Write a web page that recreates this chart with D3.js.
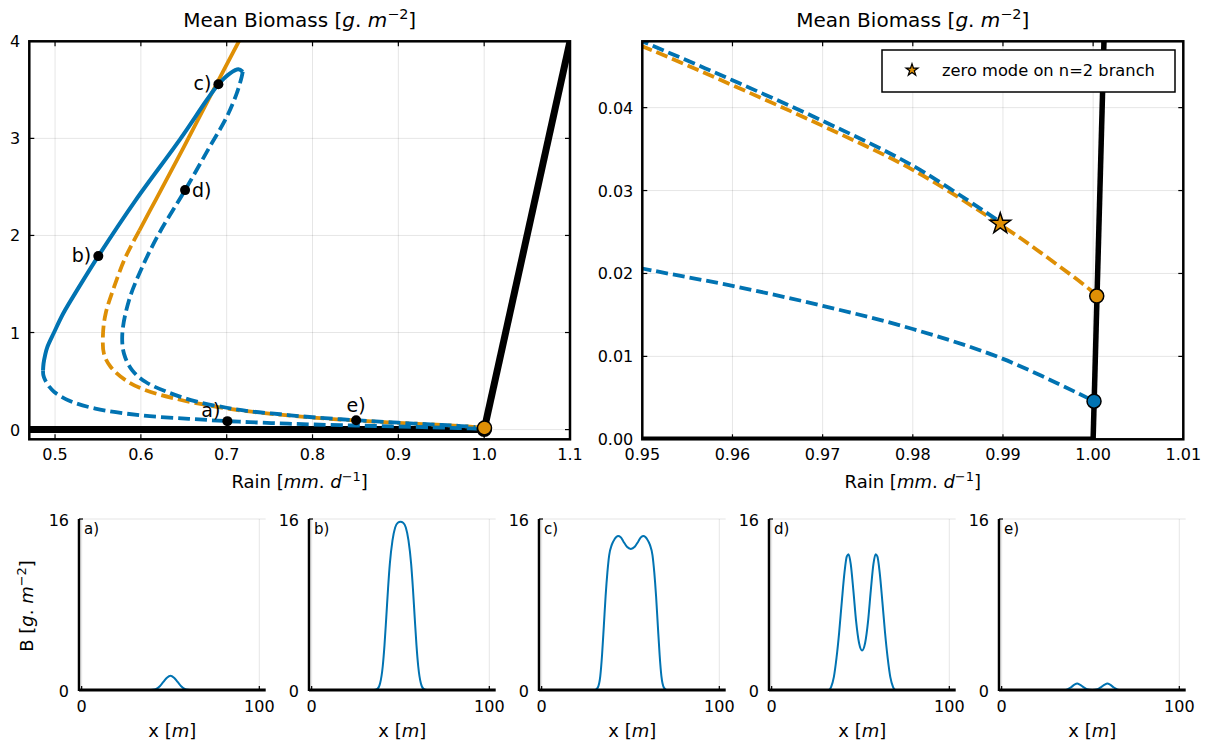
<!DOCTYPE html>
<html><head><meta charset="utf-8">
<script src="https://cdn.jsdelivr.net/npm/d3@7"></script>
<style>body{margin:0;background:#fff} text{font-family:"DejaVu Sans",sans-serif;fill:#000}</style>
</head><body><svg id="c" width="1210" height="744"></svg>
<script>
// ---------------- data ----------------
const blueStable = [[0.4860,0.61],[0.4866,0.68],[0.4885,0.77],[0.491,0.85],[0.4988,1.0],[0.5095,1.196],[0.528,1.47],[0.5504,1.787],[0.594,2.364],[0.6456,2.99],[0.6768,3.395],[0.6903,3.557],[0.7039,3.67],[0.7136,3.711],[0.7187,3.687]];
const blueUpper = [[0.7187,3.687],[0.7175,3.635],[0.7117,3.464],[0.700,3.22],[0.6802,2.913],[0.6515,2.467],[0.6212,2.02],[0.6017,1.676],[0.5862,1.333],[0.5784,0.99],[0.5804,0.78],[0.590,0.61],[0.6057,0.49],[0.6328,0.38],[0.664,0.29],[0.700,0.225],[0.726,0.19],[0.762,0.158],[0.80,0.127],[0.85,0.097],[0.90,0.071],[0.95,0.0480],[0.96,0.0433],[0.97,0.0384],[0.98,0.0330],[0.9897,0.0262]];
const blueLower = [[0.4860,0.61],[0.4864,0.56],[0.4885,0.51],[0.4935,0.44],[0.4988,0.39],[0.516,0.30],[0.547,0.216],[0.60,0.147],[0.656,0.111],[0.7008,0.087],[0.726,0.077],[0.762,0.064],[0.80,0.053],[0.85,0.042],[0.90,0.032],[0.95,0.0206],[0.96,0.0185],[0.97,0.0161],[0.98,0.0133],[0.99,0.0097],[1.0001,0.0046]];
const orangeStable = [[0.5982,2.05],[0.6175,2.37],[0.650,2.91],[0.6884,3.565],[0.7148,4.01]];
const orangeUnstable = [[0.5982,2.05],[0.5823,1.78],[0.5688,1.47],[0.559,1.196],[0.5559,0.99],[0.557,0.78],[0.5649,0.645],[0.5823,0.508],[0.6057,0.405],[0.6445,0.31],[0.6833,0.243],[0.718,0.196],[0.762,0.154],[0.80,0.124],[0.85,0.094],[0.90,0.069],[0.95,0.0474],[0.96,0.0427],[0.97,0.0378],[0.98,0.0325],[0.9897,0.0259],[0.9937,0.0229],[0.9997,0.0180],[1.0004,0.01727]];
const trivialBranch = [[0.40,0],[1.0,0]];
const uniformBranch = [[1.0,0],[1.1,4.0]];
const bifRain = [1.0001, 1.0004];
const bifB = [0.0046, 0.01727];
const bifColor = ["#0173b2", "#de8f05"];
const zeroModeRain = [0.9897];
const zeroModeB = [0.0260];
const ptLabels = ["a)","b)","c)","d)","e)"];
const ptRain = [0.7008,0.5504,0.6903,0.6515,0.8508];
const ptB = [0.087,1.787,3.557,2.467,0.097];

const leftXTicks = [0.5,0.6,0.7,0.8,0.9,1.0,1.1];
const leftXTickLabels = ["0.5","0.6","0.7","0.8","0.9","1.0","1.1"];
const leftYTicks = [0,1,2,3,4];
const rightXTicks = [0.95,0.96,0.97,0.98,0.99,1.00,1.01];
const rightXTickLabels = ["0.95","0.96","0.97","0.98","0.99","1.00","1.01"];
const rightYTicks = [0,0.01,0.02,0.03,0.04];
const rightYTickLabels = ["0.00","0.01","0.02","0.03","0.04"];

const profileA = [[0,0],[38,0],[40,0.02],[42,0.1],[44,0.35],[46,0.75],[48,1.15],[50,1.34],[52,1.15],[54,0.75],[56,0.35],[58,0.1],[60,0.02],[62,0],[100,0]];
const profileB = [[0,0],[35,0],[37,0.1],[38.5,0.6],[40,2.2],[41,4.2],[42,6.8],[43,9.5],[44,11.8],[45.5,14.0],[47,15.2],[48.5,15.65],[50,15.75],[51.5,15.65],[53,15.2],[54.5,14.0],[56,11.8],[57,9.5],[58,6.8],[59,4.2],[60,2.2],[61.5,0.6],[63,0.1],[65,0],[100,0]];
const profileC = [[0,0],[30,0],[31.5,0.2],[33,1.3],[34,3.3],[35,6],[36,8.8],[37,11],[38,12.6],[39.5,13.6],[41,14.1],[43,14.4],[44.5,14.3],[46,13.9],[48,13.4],[50.2,13.2],[52.4,13.4],[54.4,13.9],[55.9,14.3],[57.4,14.4],[59.4,14.1],[60.9,13.6],[62.4,12.6],[63.4,11],[64.4,8.8],[65.4,6],[66.4,3.3],[67.4,1.3],[68.9,0.2],[70.4,0],[100,0]];
const profileD = [[0,0],[32,0],[33.5,0.3],[35,1.2],[36.5,3],[38,5.4],[39.5,8.3],[41,11],[42.3,12.5],[43.3,12.7],[44.5,11.8],[46,9.3],[47.5,6.5],[49.2,4.4],[50.9,3.7],[52.6,4.4],[54.3,6.5],[55.8,9.3],[57.3,11.8],[58.5,12.7],[59.5,12.5],[60.8,11],[62.3,8.3],[63.8,5.4],[65.3,3],[66.8,1.2],[68.3,0.3],[69.8,0],[100,0]];
const profileE = [[0,0],[35,0],[37,0.06],[39,0.25],[41,0.5],[42.5,0.6],[44,0.5],[46,0.27],[48,0.08],[51,0.01],[54,0.08],[56,0.27],[58,0.5],[59.5,0.6],[61,0.5],[63,0.25],[65,0.06],[67,0],[100,0]];
const profiles = [profileA, profileB, profileC, profileD, profileE];
const profileNames = ["a)","b)","c)","d)","e)"];

// ---------------- drawing ----------------
const BLUE = "#0173b2", ORANGE = "#de8f05";
const svg = d3.select("#c");
const defs = svg.append("defs");

function unitText(t, pre, a, b, sup, fs){
  t.append("tspan").text(pre);
  t.append("tspan").attr("font-style","italic").text(a);
  t.append("tspan").text(". ");
  t.append("tspan").attr("font-style","italic").text(b);
  t.append("tspan").attr("dy",-fs*0.4).attr("font-size",fs*0.72).text(sup);
  t.append("tspan").attr("dy",fs*0.4).text("]");
}

function topPanel(cfg){
  const x = d3.scaleLinear().domain(cfg.xd).range([cfg.x0, cfg.x1]);
  const y = d3.scaleLinear().domain(cfg.yd).range([cfg.y1, cfg.y0]);
  const g = svg.append("g");
  const cid = "clip"+cfg.id;
  defs.append("clipPath").attr("id",cid).append("rect")
    .attr("x",cfg.x0).attr("y",cfg.y0).attr("width",cfg.x1-cfg.x0).attr("height",cfg.y1-cfg.y0);
  g.selectAll(".gx").data(cfg.xt).enter().append("line")
    .attr("x1",d=>x(d)).attr("x2",d=>x(d)).attr("y1",cfg.y0).attr("y2",cfg.y1)
    .attr("stroke","#000").attr("stroke-opacity",0.1).attr("stroke-width",1);
  g.selectAll(".gy").data(cfg.yt).enter().append("line")
    .attr("y1",d=>y(d)).attr("y2",d=>y(d)).attr("x1",cfg.x0).attr("x2",cfg.x1)
    .attr("stroke","#000").attr("stroke-opacity",0.1).attr("stroke-width",1);
  const pg = g.append("g").attr("clip-path","url(#"+cid+")");
  const line = d3.line().x(d=>x(d[0])).y(d=>y(d[1])).curve(d3.curveCatmullRom.alpha(0.5));
  const lin = d3.line().x(d=>x(d[0])).y(d=>y(d[1]));
  const dash = "12,5";
  pg.append("path").attr("d",lin(trivialBranch)).attr("fill","none").attr("stroke","#000").attr("stroke-width",cfg.bw);
  pg.append("path").attr("d",lin(uniformBranch)).attr("fill","none").attr("stroke","#000").attr("stroke-width",cfg.bw);
  pg.append("path").attr("d",line(orangeStable)).attr("fill","none").attr("stroke",ORANGE).attr("stroke-width",3.8);
  pg.append("path").attr("d",line(orangeUnstable)).attr("fill","none").attr("stroke",ORANGE).attr("stroke-width",3.8).attr("stroke-dasharray",dash);
  pg.append("path").attr("d",line(blueLower)).attr("fill","none").attr("stroke",BLUE).attr("stroke-width",3.8).attr("stroke-dasharray",dash);
  pg.append("path").attr("d",line(blueUpper)).attr("fill","none").attr("stroke",BLUE).attr("stroke-width",3.8).attr("stroke-dasharray",dash);
  pg.append("path").attr("d",line(blueStable)).attr("fill","none").attr("stroke",BLUE).attr("stroke-width",4);
  pg.selectAll(".bif").data(bifRain).enter().append("circle")
    .attr("cx",d=>x(d)).attr("cy",(d,i)=>y(bifB[i])).attr("r",7)
    .attr("fill",(d,i)=>bifColor[i]).attr("stroke","#000").attr("stroke-width",1.5);
  if(cfg.star){
    pg.selectAll(".star").data(zeroModeRain).enter().append("path")
      .attr("d", d3.symbol().type(d3.symbolStar).size(135)())
      .attr("transform",(d,i)=>`translate(${x(d)},${y(zeroModeB[i])})`)
      .attr("fill",ORANGE).attr("stroke","#000").attr("stroke-width",1.5);
  }
  if(cfg.pts){
    pg.selectAll(".pt").data(ptRain).enter().append("circle")
      .attr("cx",d=>x(d)).attr("cy",(d,i)=>y(ptB[i])).attr("r",5).attr("fill","#000");
    const off = [[-7,-4,"end"],[-7,6,"end"],[-7,6,"end"],[7,7,"start"],[0,-8,"middle"]];
    g.selectAll(".pl").data(ptLabels).enter().append("text")
      .attr("x",(d,i)=>x(ptRain[i])+off[i][0]).attr("y",(d,i)=>y(ptB[i])+off[i][1])
      .attr("text-anchor",(d,i)=>off[i][2]).attr("font-size",19).text(d=>d);
  }
  g.append("rect").attr("x",cfg.x0).attr("y",cfg.y0).attr("width",cfg.x1-cfg.x0).attr("height",cfg.y1-cfg.y0)
    .attr("fill","none").attr("stroke","#000").attr("stroke-width",2.5);
  const tl = 5;
  cfg.xt.forEach(t=>{
    g.append("line").attr("x1",x(t)).attr("x2",x(t)).attr("y1",cfg.y1).attr("y2",cfg.y1-tl).attr("stroke","#000").attr("stroke-width",1.2);
    g.append("line").attr("x1",x(t)).attr("x2",x(t)).attr("y1",cfg.y0).attr("y2",cfg.y0+tl).attr("stroke","#000").attr("stroke-width",1.2);
  });
  cfg.yt.forEach(t=>{
    g.append("line").attr("y1",y(t)).attr("y2",y(t)).attr("x1",cfg.x0).attr("x2",cfg.x0+tl).attr("stroke","#000").attr("stroke-width",1.2);
    g.append("line").attr("y1",y(t)).attr("y2",y(t)).attr("x1",cfg.x1).attr("x2",cfg.x1-tl).attr("stroke","#000").attr("stroke-width",1.2);
  });
  g.selectAll(".xl").data(cfg.xt).enter().append("text")
    .attr("x",d=>x(d)).attr("y",cfg.y1+21).attr("text-anchor","middle").attr("font-size",16)
    .text((d,i)=>cfg.xtl[i]);
  g.selectAll(".yl").data(cfg.yt).enter().append("text")
    .attr("x",cfg.x0-9).attr("y",d=>y(d)+6).attr("text-anchor","end").attr("font-size",16)
    .text((d,i)=>cfg.ytl[i]);
  const tt = g.append("text").attr("x",(cfg.x0+cfg.x1)/2).attr("y",27).attr("text-anchor","middle").attr("font-size",20);
  unitText(tt, "Mean Biomass [", "g", "m", "\u22122", 20);
  const rl = g.append("text").attr("x",(cfg.x0+cfg.x1)/2).attr("y",488).attr("text-anchor","middle").attr("font-size",18);
  unitText(rl, "Rain [", "mm", "d", "\u22121", 18);
  return {g,x,y};
}

topPanel({id:"L",x0:29.3,x1:570,y0:41.3,y1:439.3,xd:[0.47,1.1],yd:[-0.1,4.0],
  xt:leftXTicks,xtl:leftXTickLabels,yt:leftYTicks,ytl:leftYTicks.map(String),bw:7,pts:true,star:false});
topPanel({id:"R",x0:642.3,x1:1183.3,y0:41.3,y1:439.3,xd:[0.95,1.01],yd:[0,0.048],
  xt:rightXTicks,xtl:rightXTickLabels,yt:rightYTicks,ytl:rightYTickLabels,bw:5.5,pts:false,star:true});

// legend
const lg = svg.append("g");
lg.append("rect").attr("x",882).attr("y",50).attr("width",293).attr("height",42)
  .attr("fill","#fff").attr("stroke","#000").attr("stroke-width",1.5);
lg.append("path").attr("d",d3.symbol().type(d3.symbolStar).size(45)())
  .attr("transform","translate(912,70)").attr("fill",ORANGE).attr("stroke","#000").attr("stroke-width",1.2);
lg.append("text").attr("x",942).attr("y",76).attr("font-size",16.3).text("zero mode on n=2 branch");

// bottom profile panels
const pLeft = [79, 309, 539, 769, 999];
const pW = 186.7, pTop = 519, pBot = 690;
profiles.forEach((prof, k)=>{
  const x0 = pLeft[k];
  const x = d3.scaleLinear().domain([-1.5,103.6]).range([x0, x0+pW]);
  const y = d3.scaleLinear().domain([0,16]).range([pBot,pTop]);
  const g = svg.append("g");
  [0,100].forEach(t=>g.append("line").attr("x1",x(t)).attr("x2",x(t)).attr("y1",pTop).attr("y2",pBot)
     .attr("stroke","#000").attr("stroke-opacity",0.1));
  [0,16].forEach(t=>g.append("line").attr("y1",y(t)).attr("y2",y(t)).attr("x1",x0).attr("x2",x0+pW)
     .attr("stroke","#000").attr("stroke-opacity",0.1));
  g.append("path").attr("d",d3.line().x(d=>x(d[0])).y(d=>y(d[1])).curve(d3.curveMonotoneX)(prof))
    .attr("fill","none").attr("stroke",BLUE).attr("stroke-width",2);
  g.append("line").attr("x1",x0).attr("x2",x0).attr("y1",pTop).attr("y2",pBot+1).attr("stroke","#000").attr("stroke-width",2.5);
  g.append("line").attr("x1",x0).attr("x2",x0+pW).attr("y1",pBot).attr("y2",pBot).attr("stroke","#000").attr("stroke-width",3);
  [0,100].forEach(t=>g.append("line").attr("x1",x(t)).attr("x2",x(t)).attr("y1",pBot).attr("y2",pBot-4).attr("stroke","#000").attr("stroke-width",1.2));
  [0,16].forEach(t=>g.append("line").attr("y1",y(t)).attr("y2",y(t)).attr("x1",x0).attr("x2",x0+4).attr("stroke","#000").attr("stroke-width",1.2));
  [0,100].forEach(t=>g.append("text").attr("x",x(t)).attr("y",pBot+22).attr("text-anchor","middle").attr("font-size",16).text(String(t)));
  [0,16].forEach(t=>g.append("text").attr("x",x0-10).attr("y",y(t)+6.5).attr("text-anchor","end").attr("font-size",16).text(String(t)));
  g.append("text").attr("x",x0+5).attr("y",pTop+15).attr("font-size",15).text(profileNames[k]);
  const xl = g.append("text").attr("x",x0+pW/2).attr("y",737).attr("text-anchor","middle").attr("font-size",18);
  xl.append("tspan").text("x [");
  xl.append("tspan").attr("font-style","italic").text("m");
  xl.append("tspan").text("]");
});
const yl = svg.append("text").attr("transform","translate(33,606) rotate(-90)").attr("text-anchor","middle").attr("font-size",18);
unitText(yl, "B [", "g", "m", "\u22122", 18);
</script></body></html>
